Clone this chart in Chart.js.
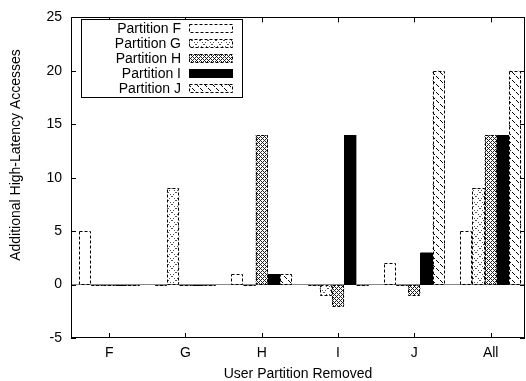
<!DOCTYPE html>
<html><head><meta charset="utf-8">
<script src="https://cdn.jsdelivr.net/npm/chart.js@4.4.0/dist/chart.umd.min.js"></script>
<style>html,body{margin:0;padding:0;background:#fff;overflow:hidden}</style>
</head><body>
<canvas id="c" width="526" height="381" style="display:block;width:526px;height:381px"></canvas>
<script>
// ---- data ----
const categories = ['F', 'G', 'H', 'I', 'J', 'All'];
const seriesNames = ['Partition F', 'Partition G', 'Partition H', 'Partition I', 'Partition J'];
const partitionF = [5, 0, 1, 0, 2, 5];
const partitionG = [0, 9, 0, -1, 0, 9];
const partitionH = [0, 0, 14, -2, -1, 14];
const partitionI = [0, 0, 1, 14, 3, 14];
const partitionJ = [0, 0, 1, 0, 20, 20];
const yTicks = [-5, 0, 5, 10, 15, 20, 25];
const xTitle = 'User Partition Removed';
const yTitle = 'Additional High-Latency Accesses';

const FONT = '"Liberation Sans", Arial, Helvetica, sans-serif';
const canvas = document.getElementById('c');
const ctx0 = canvas.getContext('2d');

function pixPattern(size, fn, dark) {
  const c = document.createElement('canvas');
  c.width = size; c.height = size;
  const g = c.getContext('2d');
  g.fillStyle = '#fff'; g.fillRect(0, 0, size, size);
  g.fillStyle = dark;
  for (let y = 0; y < size; y++) for (let x = 0; x < size; x++) if (fn(x, y)) g.fillRect(x, y, 1, 1);
  return ctx0.createPattern(c, 'repeat');
}
const patF = '#ffffff';
const patG = pixPattern(8, (x, y) => (x === y && x % 2 === 0) || (x === 7 - y && x % 2 === 1), '#555');
const patH = pixPattern(4, (x, y) => (x + y) % 4 === 0 || (x - y + 4) % 4 === 0, '#222');
const patI = '#000000';
const patJ = pixPattern(8, (x, y) => x === y && x !== 3 && x !== 7, '#000');
const fills = [patF, patG, patH, patI, patJ];
const dashed = [true, true, true, false, true];
const seriesData = [partitionF, partitionG, partitionH, partitionI, partitionJ];

const datasets = seriesNames.map((name, k) => ({
  label: name,
  data: seriesData[k].map((v, i) => ({x: i, y: v})),
  backgroundColor: fills[k],
  borderWidth: 0,
  barPercentage: 1.0,
  categoryPercentage: 0.8
}));

function strokeRectDashed(ctx, l, t, r, b, dash) {
  ctx.save();
  ctx.strokeStyle = '#000';
  ctx.lineWidth = 1;
  ctx.setLineDash(dash ? [3, 2] : []);
  ctx.strokeRect(Math.round(l) + 0.5, Math.round(t) + 0.5, Math.round(r) - Math.round(l) - 1, Math.max(0, Math.round(b) - Math.round(t)));
  ctx.restore();
}

const decor = {
  id: 'decor',
  afterDatasetsDraw(chart) {
    const ctx = chart.ctx;
    chart.data.datasets.forEach((ds, k) => {
      const meta = chart.getDatasetMeta(k);
      meta.data.forEach(el => {
        const p = el.getProps(['x', 'y', 'base', 'width'], true);
        const l = p.x - p.width / 2, r = p.x + p.width / 2;
        const t = Math.min(p.y, p.base), b = Math.max(p.y, p.base);
        strokeRectDashed(ctx, l, t, r, b, dashed[k]);
      });
    });
  },
  afterDraw(chart) {
    const ctx = chart.ctx;
    const a = chart.chartArea;
    const xs = chart.scales.x, ys = chart.scales.y;
    ctx.save();
    ctx.strokeStyle = '#000';
    ctx.lineWidth = 1;
    ctx.setLineDash([]);
    // border
    ctx.strokeRect(Math.round(a.left) + 0.5, Math.round(a.top) + 0.5, Math.round(a.right - a.left) - 1, Math.round(a.bottom - a.top) - 1);
    // inward ticks
    ctx.beginPath();
    const L = 5;
    xs.ticks.forEach(t => {
      const px = Math.round(xs.getPixelForValue(t.value)) + 0.5;
      ctx.moveTo(px, a.bottom); ctx.lineTo(px, a.bottom - L);
      ctx.moveTo(px, a.top); ctx.lineTo(px, a.top + L);
    });
    ys.ticks.forEach(t => {
      const py = Math.round(ys.getPixelForValue(t.value)) + 0.5;
      ctx.moveTo(a.left, py); ctx.lineTo(a.left + L, py);
      ctx.moveTo(a.right, py); ctx.lineTo(a.right - L, py);
    });
    ctx.stroke();
    // axis titles
    ctx.fillStyle = '#000';
    ctx.font = '14px ' + FONT;
    ctx.textAlign = 'center';
    ctx.textBaseline = 'middle';
    ctx.fillText(xTitle, (a.left + a.right) / 2, 374);
    ctx.save();
    ctx.translate(16, 155);
    ctx.rotate(-Math.PI / 2);
    ctx.fillText(yTitle, 0, 0);
    ctx.restore();
    // legend
    const bx = 81, by = 19, bw = 161, bh = 78;
    ctx.fillStyle = '#fff';
    ctx.fillRect(bx, by, bw, bh);
    ctx.strokeRect(bx + 0.5, by + 0.5, bw, bh);
    chart.data.datasets.forEach((ds, k) => {
      const cy = 28 + 15 * k;
      ctx.fillStyle = '#000';
      ctx.textAlign = 'right';
      ctx.textBaseline = 'middle';
      ctx.fillText(ds.label, 181, cy + 1);
      ctx.fillStyle = fills[k];
      ctx.fillRect(189, cy - 4, 43, 8);
      strokeRectDashed(ctx, 189, cy - 4, 233, cy + 4, dashed[k]);
    });
    ctx.restore();
  }
};

new Chart(canvas, {
  type: 'bar',
  data: {datasets},
  options: {
    responsive: false,
    animation: false,
    devicePixelRatio: 1,
    layout: {padding: {top: 14, right: 1, left: 0, bottom: 0}},
    plugins: {legend: {display: false}, tooltip: {enabled: false}},
    scales: {
      x: {
        type: 'linear',
        min: -0.5,
        max: 5.45,
        offset: false,
        grid: {display: false, drawTicks: false},
        border: {display: false},
        afterBuildTicks: s => { s.ticks = categories.map((_, i) => ({value: i})); },
        afterFit: s => { s.height = 43; },
        ticks: {
          autoSkip: false,
          maxRotation: 0,
          padding: 7,
          color: '#000',
          font: {family: FONT, size: 14},
          callback: v => categories[v] ?? ''
        }
      },
      y: {
        min: -5,
        max: 25,
        grid: {
          drawTicks: false,
          color: c => (c.tick && c.tick.value === 0 ? '#888' : 'rgba(0,0,0,0)'),
          lineWidth: 1
        },
        border: {display: false},
        afterBuildTicks: s => { s.ticks = yTicks.map(v => ({value: v})); },
        afterFit: s => { s.width = 71; },
        ticks: {
          padding: 9,
          color: '#000',
          font: {family: FONT, size: 14}
        }
      }
    }
  },
  plugins: [decor]
});
</script>
</body></html>
